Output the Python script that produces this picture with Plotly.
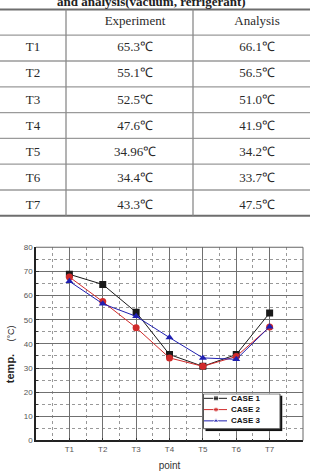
import plotly.graph_objects as go

W, H = 310, 471

# ---------------- table data ----------------
table_title = "and analysis(vacuum, refrigerant)"
table_header = ["", "Experiment", "Analysis"]
points = ["T1", "T2", "T3", "T4", "T5", "T6", "T7"]
experiment = [65.3, 55.1, 52.5, 47.6, 34.96, 34.4, 43.3]
analysis = [66.1, 56.5, 51.0, 41.9, 34.2, 33.7, 47.5]
unit = "\u2103"

# ---------------- chart data ----------------
case_names = ["CASE 1", "CASE 2", "CASE 3"]
case1 = [68.8, 64.6, 53.1, 35.6, 30.7, 35.6, 52.8]
case2 = [67.7, 57.5, 46.7, 34.2, 30.7, 34.8, 47.0]
case3 = [65.9, 56.6, 51.4, 42.6, 34.2, 33.6, 47.1]
y_tick_vals = [0, 10, 20, 30, 40, 50, 60, 70, 80]
x_title = "point"
y_title_main = "temp."
y_title_unit = "(\u00b0C)"

series = [case1, case2, case3]
colors = ["#1a1a1a", "#d02a2a", "#1f1fb0"]
symbols = ["square", "circle", "triangle-up"]


def px(x):
    return x / W


def py(y):
    return 1 - y / H


fig = go.Figure()

# ---------------- table ----------------
tbl_top, row_h = 5.5, 26.3
n_rows = len(points) + 1
tbl_bot = tbl_top + n_rows * row_h
rule_x = [66, 193]               # vertical rules
text_col_edges = [0, 66, 204, W]  # text column extents (text centres)
text_shift = -2.5
serif = "Liberation Serif, Times New Roman, serif"

fig.add_trace(go.Table(
    domain=dict(x=[0, 1], y=[py(tbl_bot + text_shift), py(tbl_top + text_shift)]),
    columnwidth=[text_col_edges[i + 1] - text_col_edges[i] for i in range(3)],
    header=dict(values=table_header, height=row_h, align="center",
                fill=dict(color="rgba(0,0,0,0)"), line=dict(width=0),
                font=dict(family=serif, size=13, color="#2a2a2a")),
    cells=dict(values=[points,
                       [f"{v}{unit}" for v in experiment],
                       [f"{v}{unit}" for v in analysis]],
               height=row_h, align="center",
               fill=dict(color="rgba(0,0,0,0)"), line=dict(width=0),
               font=dict(family=serif, size=13, color="#2a2a2a")),
))

shapes = []
for k in range(n_rows + 1):
    yk = tbl_top + k * row_h
    thick = k in (0, n_rows)
    shapes.append(dict(type="line", xref="paper", yref="paper",
                       x0=0, x1=1, y0=py(yk), y1=py(yk),
                       line=dict(color="#6e6e6e" if thick else "#9a9a9a",
                                 width=2 if thick else 1.3)))
for xe in rule_x:
    shapes.append(dict(type="line", xref="paper", yref="paper",
                       x0=px(xe), x1=px(xe), y0=py(tbl_top), y1=py(tbl_bot),
                       line=dict(color="#8a8a8a", width=1.3)))

annotations = [dict(text=f"<b>{table_title}</b>", xref="paper", yref="paper",
                    x=px(151), y=py(-3), xanchor="center", yanchor="middle",
                    showarrow=False, font=dict(family=serif, size=13, color="#222"))]

# ---------------- chart ----------------
x_idx = list(range(1, len(points) + 1))
for name, vals, c, s in zip(case_names, series, colors, symbols):
    fig.add_trace(go.Scatter(x=x_idx, y=vals, name=name, mode="lines+markers",
                             line=dict(color=c, width=1),
                             marker=dict(symbol=s, size=7, color=c),
                             showlegend=False, xaxis="x", yaxis="y"))

pl, pr, pt, pb = 36, 303, 248, 445
tick_font = dict(family="Liberation Sans, Arial, sans-serif", size=8, color="#555")

fig.update_layout(
    xaxis=dict(domain=[px(pl), px(pr)], range=[0, len(points) + 1],
               tickmode="array", tickvals=x_idx, ticktext=points,
               showgrid=True, gridcolor="#707070", gridwidth=1,
               ticks="inside", ticklen=3, tickcolor="#333",
               minor=dict(dtick=0.5, tick0=0, showgrid=True, griddash="dot",
                          gridcolor="#999", gridwidth=1, ticks="inside",
                          ticklen=2, tickcolor="#333"),
               showline=True, linecolor="#222", linewidth=1.5,
               zeroline=False, tickfont=tick_font,
               title=dict(text=x_title, standoff=9,
                          font=dict(family="Liberation Sans, Arial", size=10, color="#333"))),
    yaxis=dict(domain=[py(pb), py(pt)], range=[0, 80],
               tickmode="array", tickvals=y_tick_vals,
               showgrid=True, gridcolor="#707070", gridwidth=1,
               ticks="inside", ticklen=3, tickcolor="#333",
               minor=dict(dtick=5, tick0=0, showgrid=True, griddash="dot",
                          gridcolor="#999", gridwidth=1, ticks="inside",
                          ticklen=2, tickcolor="#333"),
               showline=True, linecolor="#222", linewidth=1.5,
               zeroline=False, tickfont=tick_font),
)

# top / right frame of plot area
shapes.append(dict(type="line", xref="x domain", yref="y domain", x0=0, x1=1, y0=1, y1=1,
                   line=dict(color="#666", width=1)))
shapes.append(dict(type="line", xref="x domain", yref="y domain", x0=1, x1=1, y0=0, y1=1,
                   line=dict(color="#666", width=1)))

# y-axis title
annotations.append(dict(text=f"<b>{y_title_main}</b>    <span style='font-size:9px;font-weight:normal'>{y_title_unit}</span>",
                        xref="paper", yref="paper", x=px(10), y=py(357),
                        xanchor="center", yanchor="middle", textangle=-90,
                        showarrow=False,
                        font=dict(family="Liberation Sans, Arial", size=11, color="#222")))

# ---------------- legend (drawn on its own small axes) ----------------
lg_l, lg_t, lg_w, lg_h = 203, 397, 77, 36
sh = 2.5
fig.update_layout(
    xaxis2=dict(domain=[px(lg_l), px(lg_l + lg_w + sh)], range=[0, lg_w + sh],
                visible=False, anchor="y2"),
    yaxis2=dict(domain=[py(lg_t + lg_h + sh), py(lg_t)], range=[lg_h + sh, 0],
                visible=False, anchor="x2"),
)
shapes.append(dict(type="rect", xref="x2", yref="y2", layer="below",
                   x0=sh, x1=lg_w + sh, y0=sh, y1=lg_h + sh,
                   fillcolor="#111", line=dict(width=0)))
shapes.append(dict(type="rect", xref="x2", yref="y2", layer="below",
                   x0=0.5, x1=lg_w, y0=0.5, y1=lg_h,
                   fillcolor="white", line=dict(color="#555", width=1)))
for i, (name, c, s) in enumerate(zip(case_names, colors, symbols)):
    yi = 5 + i * 11.5
    fig.add_trace(go.Scatter(x=[1, 13, 24], y=[yi] * 3, mode="lines+markers",
                             line=dict(color=c, width=1),
                             marker=dict(symbol=s, size=[0, 5, 0], color=c),
                             showlegend=False, hoverinfo="skip",
                             xaxis="x2", yaxis="y2"))
    annotations.append(dict(text=f"<b>{name}</b>", xref="x2", yref="y2",
                            x=26, y=yi, xanchor="left", yanchor="middle",
                            showarrow=False,
                            font=dict(family="Liberation Sans, Arial", size=8, color="#111")))

fig.update_layout(
    width=W, height=H, margin=dict(l=0, r=0, t=0, b=0),
    paper_bgcolor="white", plot_bgcolor="white",
    showlegend=False, shapes=shapes, annotations=annotations,
)

fig.write_html("out.html")
